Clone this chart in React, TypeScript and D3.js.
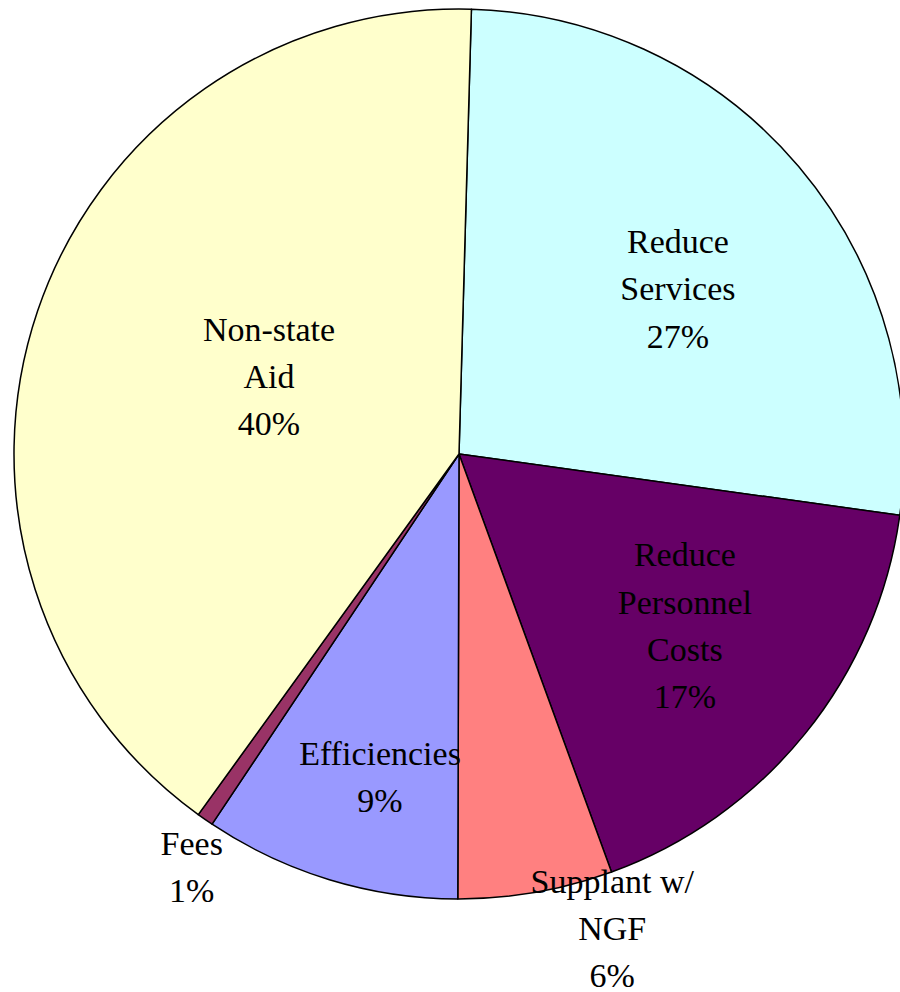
import React from "react";
import * as d3 from "d3";

// Budget reduction strategies, share of total (%)
const categories = [
  "Reduce Services",
  "Reduce Personnel Costs",
  "Supplant w/ NGF",
  "Efficiencies",
  "Fees",
  "Non-state Aid",
];
const values = [26.7, 17.2, 5.6, 9.3, 0.6, 40.4];
const labelLines = [
  ["Reduce", "Services"],
  ["Reduce", "Personnel", "Costs"],
  ["Supplant w/", "NGF"],
  ["Efficiencies"],
  ["Fees"],
  ["Non-state", "Aid"],
];
const colors = ["#CCFFFF", "#660066", "#FF8080", "#9999FF", "#993366", "#FFFFCC"];

// label placement relative to each slice: angle offset (deg) from mid-angle, radius as fraction of R
const labelAngleOffset = [3.25, -1.65, -7.95, -3.2, -1.9, 3.4];
const labelRadiusFrac = [0.616, 0.638, 1.121, 0.748, 1.106, 0.461];

const W = 900;
const H = 992;
const CX = 459;
const CY = 454;
const R = 445;
const START = (1.6 * Math.PI) / 180;
const FONT = 34;
const LINE = 47.3;

export default function App() {
  const total = d3.sum(values);
  const pie = d3
    .pie<number>()
    .sort(null)
    .value((d) => d)
    .startAngle(START)
    .endAngle(START + 2 * Math.PI);
  const arcs = pie(values);
  const arc = d3.arc<d3.PieArcDatum<number>>().innerRadius(0).outerRadius(R);

  return (
    <svg
      width={W}
      height={H}
      style={{ position: "absolute", left: 0, top: 0, background: "#fff" }}
      fontFamily="'Liberation Serif', 'Times New Roman', serif"
    >
      <g transform={`translate(${CX},${CY})`}>
        {arcs.map((a, i) => (
          <path
            key={categories[i]}
            d={arc(a) || ""}
            fill={colors[i]}
            stroke="#000"
            strokeWidth={1.5}
            strokeLinejoin="round"
          />
        ))}
        {arcs.map((a, i) => {
          const mid = (a.startAngle + a.endAngle) / 2 + (labelAngleOffset[i] * Math.PI) / 180;
          const r = R * labelRadiusFrac[i];
          const x = Math.sin(mid) * r;
          const y = -Math.cos(mid) * r;
          const pct = `${Math.round((values[i] / total) * 100)}%`;
          const lines = [...labelLines[i], pct];
          const n = lines.length;
          return (
            <text key={`lbl-${i}`} textAnchor="middle" fontSize={FONT} fill="#000">
              {lines.map((t, j) => (
                <tspan key={j} x={x} y={y + (j - (n - 1) / 2) * LINE + FONT * 0.33}>
                  {t}
                </tspan>
              ))}
            </text>
          );
        })}
      </g>
    </svg>
  );
}
